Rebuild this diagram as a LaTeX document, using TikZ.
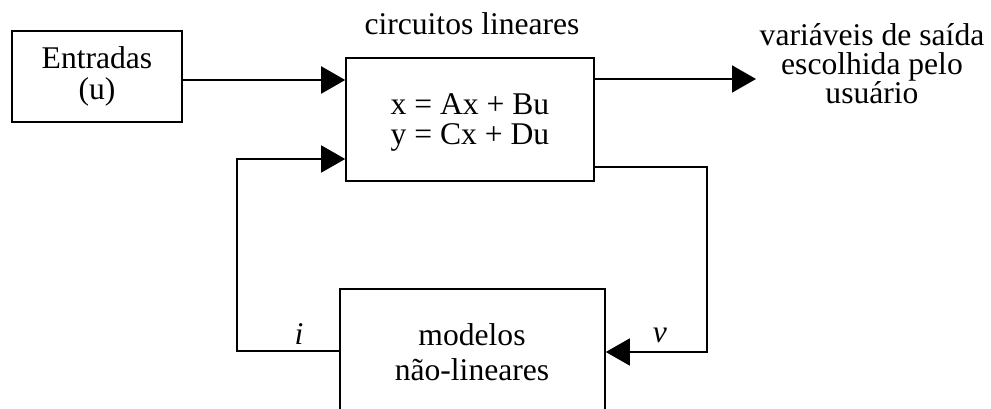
\documentclass[tikz,border=0pt]{standalone}
\usepackage{fontspec}
\setmainfont{Liberation Serif}
\usetikzlibrary{arrows.meta}
\begin{document}
\begin{tikzpicture}[x=1pt,y=-1pt,
  box/.style={draw,line width=1.6pt,inner sep=0pt},
  lbl/.style={inner sep=0pt,align=center,font=\fontsize{31.6}{30}\selectfont},
  conn/.style={line width=1.6pt},
  arr/.style={conn,-{Triangle[length=24pt,width=27pt]}}]
\clip (0,0) rectangle (991,409);
% boxes
\node[box,line width=2pt,minimum width=170pt,minimum height=91pt] (ent) at (97,76.5) {};
\node[box,minimum width=248pt,minimum height=123pt] (main) at (470,119.5) {};
\node[box,minimum width=265pt,minimum height=150pt] (bot) at (472.5,364) {};
% texts
\node[lbl,font=\fontsize{31.6}{31}\selectfont] (enttxt) at (ent.center) {Entradas\\(u)};
\node[lbl] (eqtxt) at (470,122) {x = Ax + Bu\\y = Cx + Du};
\node[lbl,anchor=base] (title) at (472,35) {circuitos lineares};
\node[lbl,font=\fontsize{31.6}{29}\selectfont] (outtxt) at (872,63.5) {variáveis de saída\\escolhida pelo\\usuário};
\node[lbl,font=\fontsize{31.6}{35}\selectfont] (bottxt) at (472,351.7) {modelos\\não-lineares};
\node[lbl,anchor=base,font=\fontsize{31.6}{30}\selectfont\itshape] (ilbl) at (299,344) {i};
\node[lbl,anchor=base,font=\fontsize{31.6}{30}\selectfont\itshape] (vlbl) at (660,342) {v};
% helper coordinates
\coordinate (y1) at (0,80);
\coordinate (yo) at (0,79);
\coordinate (out) at (756,79);
\coordinate (yr) at (0,167);
\coordinate (cr) at (707,352);
\coordinate (cl) at (237,351);
\coordinate (y2) at (0,159);
% connectors
\draw[arr,line width=2pt] (ent.east |- y1) -- (main.west |- y1);
\draw[arr,line width=2pt] (main.east |- yo) -- (out);
\draw[arr] (main.east |- yr) -| (cr) -- (bot.east |- cr);
\draw[arr] (bot.west |- cl) -- (cl) |- (main.west |- y2);
\end{tikzpicture}
\end{document}
